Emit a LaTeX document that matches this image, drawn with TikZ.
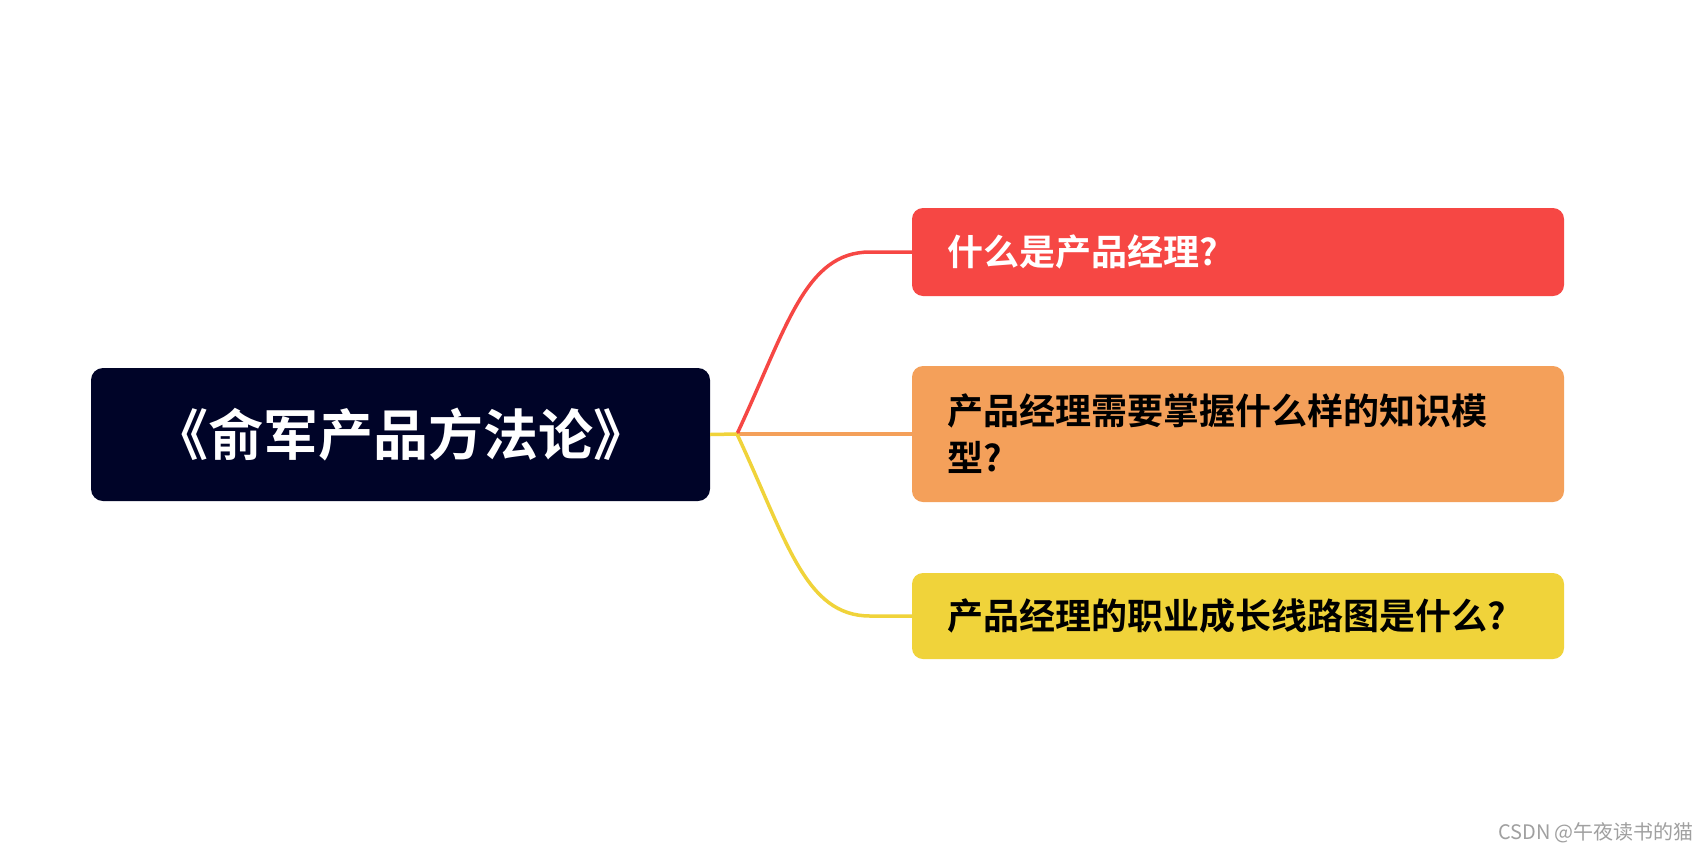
\documentclass[tikz,border=0pt]{standalone}
\usepackage{fontspec}
\newfontfamily\cjkb{Noto Sans CJK SC Bold}
\newfontfamily\cjkr{Noto Sans CJK SC}
\definecolor{rootc}{HTML}{000428}
\definecolor{redc}{HTML}{F64744}
\definecolor{orc}{HTML}{F4A05A}
\definecolor{yelc}{HTML}{F0D33A}
\definecolor{wmc}{HTML}{A0A0A0}
\tikzset{
  rootbox/.style={rectangle, rounded corners=12pt, fill=rootc, text=white,
    minimum width=619pt, minimum height=133pt, inner sep=0pt,
    font=\cjkb\fontsize{55}{64}\selectfont},
  childbox/.style={rectangle, rounded corners=11pt, inner xsep=35pt, inner ysep=0pt,
    text width=582pt, align=left, font=\cjkb\fontsize{36}{47}\selectfont},
  link/.style={line width=3.5pt},
}
\begin{document}
\begin{tikzpicture}[x=1pt,y=-1pt]
\useasboundingbox (0,0) rectangle (1704,852);
\fill[white] (0,0) rectangle (1704,852);
\node[rootbox] (root) at (400.5,434.5) {《俞军产品方法论》};
\node[childbox, fill=redc, text=white, minimum height=88pt] (c1) at (1238,252) {什么是产品经理?};
\node[childbox, fill=orc, text=black, minimum height=136pt] (c2) at (1238,434) {产品经理需要掌握什么样的知识模\\型?};
\node[childbox, fill=yelc, text=black, minimum height=86pt] (c3) at (1238,616) {产品经理的职业成长线路图是什么?};
\coordinate (J) at (737,434);
\draw[link, draw=orc] (J) -- (c2.west);
\draw[link, draw=redc] (J) .. controls (787,327) and (805,252) .. (870,252) -- (c1.west);
\draw[link, draw=yelc] (J) .. controls (787,541) and (805,616) .. (870,616) -- (c3.west);
\draw[link, draw=yelc] (root.east) -- (J);
\node[text=wmc, font=\cjkr\fontsize{20}{22}\selectfont, inner sep=0pt] (wm) at (1596,833) {CSDN @午夜读书的猫};
\end{tikzpicture}
\end{document}
